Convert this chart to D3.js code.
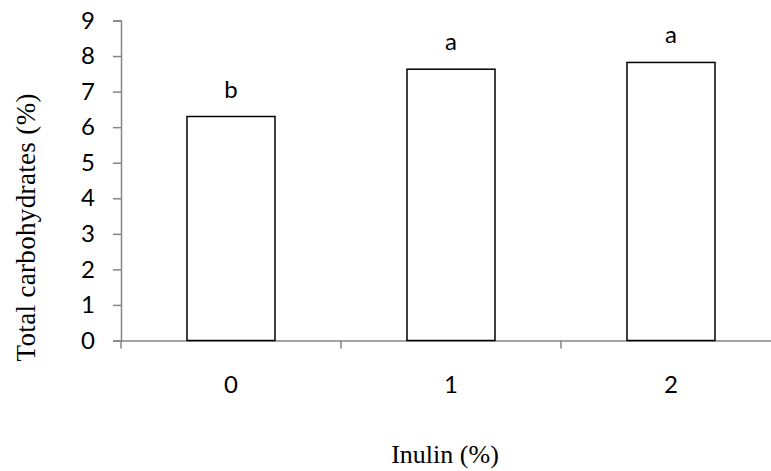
<!DOCTYPE html>
<html>
<head>
<meta charset="utf-8">
<script src="https://cdn.jsdelivr.net/npm/d3@7"></script>
<style>
  html, body { margin: 0; padding: 0; background: #fff; }
  svg { display: block; }
  .lbl { font-family: Lato, 'Open Sans', sans-serif; font-size: 24px; fill: #000; }
  .ttl { font-family: 'Liberation Serif', 'Times New Roman', serif; fill: #000; }
</style>
</head>
<body>
<svg id="chart" width="771" height="471"></svg>
<script>
const categories = ["0", "1", "2"];
const values = [6.3, 7.63, 7.82];
const letters = ["b", "a", "a"];
const yTicks = [0, 1, 2, 3, 4, 5, 6, 7, 8, 9];
const yTitle = "Total carbohydrates (%)";
const xTitle = "Inulin (%)";

const svg = d3.select("#chart");
const axisColor = "#868686";

const y = d3.scaleLinear().domain([0, 9]).range([340.5, 20.5]);
const x = d3.scaleBand().domain(categories).range([121, 781]).paddingInner(0.6).paddingOuter(0.3);

// Y axis
const gy = svg.append("g").attr("transform", "translate(121,0)")
  .call(d3.axisLeft(y).tickValues(yTicks).tickSize(8).tickPadding(18).tickFormat(d3.format("d")));
gy.attr("font-size", null).attr("font-family", null);
gy.select(".domain").attr("stroke", axisColor).attr("stroke-width", 1.5);
gy.selectAll(".tick line").attr("stroke", axisColor).attr("stroke-width", 1.5);
gy.selectAll(".tick text").attr("class", "lbl").attr("fill", null);

// X axis
const gx = svg.append("g").attr("transform", "translate(0,340.5)")
  .call(d3.axisBottom(x).tickSize(0).tickPadding(35));
gx.attr("font-size", null).attr("font-family", null);
gx.select(".domain").attr("stroke", axisColor).attr("stroke-width", 1.5);
gx.selectAll(".tick text").attr("class", "lbl").attr("fill", null);

// boundary ticks
const bounds = [0, 1, 2, 3].map(i => x.range()[0] + i * x.step());
gx.selectAll("line.bound").data(bounds).enter().append("line")
  .attr("class", "bound")
  .attr("x1", d => d).attr("x2", d => d)
  .attr("y1", 0).attr("y2", 8)
  .attr("stroke", axisColor).attr("stroke-width", 1.5);

// Bars
svg.append("g").selectAll("rect").data(values).enter().append("rect")
  .attr("x", (d, i) => x(categories[i]))
  .attr("y", d => y(d))
  .attr("width", x.bandwidth())
  .attr("height", d => y(0) - y(d))
  .attr("fill", "#fff")
  .attr("stroke", "#000")
  .attr("stroke-width", 1.5);

// Letters
svg.append("g").selectAll("text").data(values).enter().append("text")
  .attr("class", "lbl")
  .attr("x", (d, i) => x(categories[i]) + x.bandwidth() / 2)
  .attr("y", d => y(d) - 19)
  .attr("text-anchor", "middle")
  .text((d, i) => letters[i]);

// Axis titles
svg.append("text")
  .attr("class", "ttl")
  .attr("transform", "translate(35,227.5) rotate(-90)")
  .attr("text-anchor", "middle")
  .style("font-size", "27px")
  .attr("textLength", 268)
  .attr("lengthAdjust", "spacing")
  .text(yTitle);

svg.append("text")
  .attr("class", "ttl")
  .attr("x", 445)
  .attr("y", 463)
  .attr("text-anchor", "middle")
  .style("font-size", "26px")
  .text(xTitle);
</script>
</body>
</html>
